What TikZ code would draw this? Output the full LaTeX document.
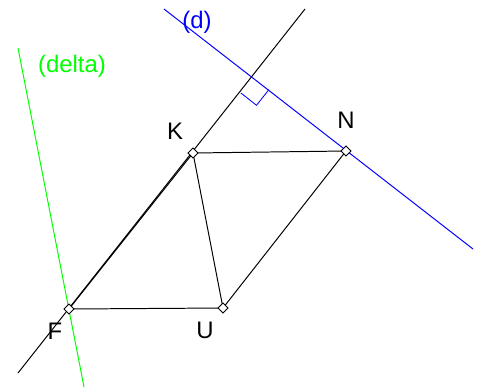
\documentclass[tikz,border=0pt]{standalone}
\usepackage{fontspec}
\setmainfont{Liberation Sans}
\usetikzlibrary{positioning}

\begin{document}
\begin{tikzpicture}[
  x=0.025cm,y=-0.025cm,
  line width=0.7pt,
  pt/.style={draw,fill=white,rectangle,rotate=45,minimum size=5pt,inner sep=0pt,line width=0.6pt},
  lbl/.style={font=\fontsize{17}{20}\selectfont,inner sep=0pt},
  dline/.style={blue},
  deltaline/.style={green}
]
\useasboundingbox (0,0) rectangle (484,389);

% free ends of the long lines
\coordinate (a1) at (18,373);
\coordinate (a2) at (305,9);
\coordinate (d1) at (164,9);
\coordinate (d2) at (473,249);
\coordinate (g1) at (18,48);
\coordinate (g2) at (84,387);

% right angle mark
\coordinate (h) at (253,77);
\coordinate (r1) at (240.8,92.9);
\coordinate (r2) at (256.5,105.3);
\coordinate (r3) at (268.9,89.6);

\draw (a1) -- (a2);
\draw[dline] (d1) -- (d2);
\draw[deltaline] (g1) -- (g2);
\draw[dline,line width=0.6pt] (r1) -- (r2) -- (r3);

% the quadrilateral
\coordinate (f) at (69,309);
\coordinate (k) at (193,153);
\coordinate (n) at (346,151);
\coordinate (u) at (223,308);
\draw (f) -- (k) -- (n) -- (u) -- (f);
\draw (k) -- (u);

\node[pt] (F) at (f) {};
\node[pt] (K) at (k) {};
\node[pt] (N) at (n) {};
\node[pt] (U) at (u) {};

\node[lbl] (lF) at (55,331) {F};
\node[lbl] (lK) at (175,131) {K};
\node[lbl] (lN) at (346,120) {N};
\node[lbl] (lU) at (205,330) {U};
\node[lbl,blue] (ld) at (197,22) {(d)};
\node[lbl,green] (ldelta) at (72,66) {(delta)};
\end{tikzpicture}
\end{document}
